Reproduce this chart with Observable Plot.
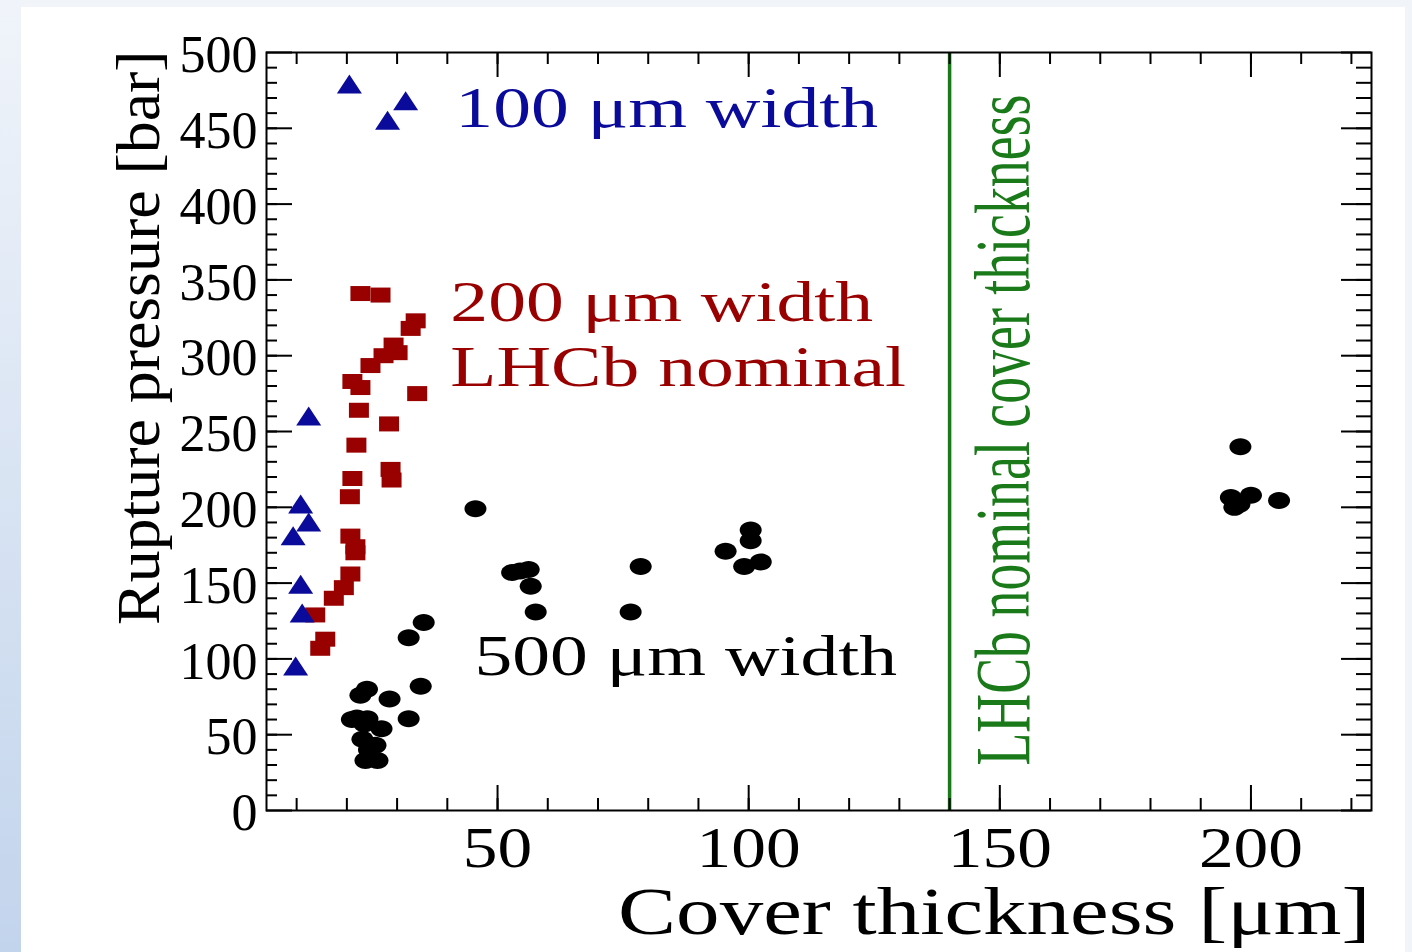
<!DOCTYPE html>
<html><head><meta charset="utf-8">
<script src="https://cdn.jsdelivr.net/npm/d3@7"></script>
<script src="https://cdn.jsdelivr.net/npm/@observablehq/plot@0.6"></script>
<style>
html,body{margin:0;padding:0;background:#f1f4f9;}
#wrap{position:relative;width:1412px;height:952px;background:#f1f4f9;overflow:hidden;}
#strip{position:absolute;left:0;top:0;width:21px;height:952px;background:linear-gradient(to bottom,#f0f4fa,#c2d4ec);}
#panel{position:absolute;left:21px;top:7px;width:1384px;height:945px;background:#fff;}
#chart{position:absolute;left:0;top:0;}
</style></head><body>
<div id="wrap"><div id="strip"></div><div id="panel"></div><div id="chart"></div></div>
<script>
// ---- data ----
const width100 = [[20.5,478],[28.1,454],[31.7,467],[12.4,259],[10.8,201],[12.4,189],[9.3,180],[10.8,148],[11.1,129],[9.8,94]];
const width200 = [[22.7,341],[26.7,340],[33.7,323],[32.7,318],[30.1,302],[29.3,307],[27.3,300],[24.7,293.5],[21.1,283],[22.7,279],[34.0,275],[22.4,264],[28.4,255],[21.9,241],[28.7,225],[28.9,218],[21.1,219],[20.6,207],[20.7,181],[21.7,174],[21.7,170],[20.7,156],[19.4,147],[17.4,140],[13.7,129],[15.7,113],[14.7,107]];
const width500 = [[45.6,199],[52.9,157],[54.5,158],[56.2,159],[56.6,148],[57.6,131],[76.5,131],[78.5,161],[95.4,171],[100.4,185],[100.4,178],[99.1,161],[102.4,164],[197.9,240],[196,206.5],[197.7,202],[200,208],[196.7,200],[205.6,204.5],[35.3,124],[32.3,114],[34.7,82],[32.3,60.5],[28.5,73.6],[24,80],[22.7,76],[21,60],[22,61],[24.1,60.5],[23.5,57],[26.9,54],[23.1,47],[25.7,43],[24.4,40],[23.7,33],[26.1,33]];
const nominalCover = [140];
const xDomain = [4, 224];
const yDomain = [0, 500];
const xTickLabels = [50, 100, 150, 200];
const yTickLabels = [0, 50, 100, 150, 200, 250, 300, 350, 400, 450, 500];
const xMinorTicks = [10,20,30,40,50,60,70,80,90,100,110,120,130,140,150,160,170,180,190,200,210,220];
const yMinorTicks = [10,20,30,40,50,60,70,80,90,100,110,120,130,140,150,160,170,180,190,200,210,220,230,240,250,260,270,280,290,300,310,320,330,340,350,360,370,380,390,400,410,420,430,440,450,460,470,480,490];
const annotations = [
  {x: 41.6, y: 462.4, text: "100 μm width", color: "blue"},
  {x: 40.6, y: 335, text: "200 μm width", color: "red"},
  {x: 40.6, y: 291.6, text: "LHCb nominal", color: "red"},
  {x: 45.4, y: 101, text: "500 μm width", color: "black"}
];
const xTitle = "Cover thickness [μm]";
const yTitle = "Rupture pressure [bar]";
const lineLabel = "LHCb nominal cover thickness";

// ---- styling ----
const BLUE = "#0b0b9b", RED = "#990000", GREEN = "#1a7a1a";
const colorOf = {blue: BLUE, red: RED, black: "#000"};
const W = 1412, H = 952, mL = 266, mR = 41, mT = 52, mB = 142;
const iw = W - mL - mR, ih = H - mT - mB;

function ellipse(rx, ry) {
  return {draw(c) {
    const k = 0.5523;
    c.moveTo(rx, 0);
    c.bezierCurveTo(rx, ry*k, rx*k, ry, 0, ry);
    c.bezierCurveTo(-rx*k, ry, -rx, ry*k, -rx, 0);
    c.bezierCurveTo(-rx, -ry*k, -rx*k, -ry, 0, -ry);
    c.bezierCurveTo(rx*k, -ry, rx, -ry*k, rx, 0);
    c.closePath();
  }};
}
function rectSym(w, h) { return {draw(c) { c.rect(-w/2, -h/2, w, h); }}; }
function triSym(w, h) { return {draw(c) { c.moveTo(0, -h*0.6); c.lineTo(w/2, h*0.4); c.lineTo(-w/2, h*0.4); c.closePath(); }}; }

const tk = {stroke: "black", strokeWidth: 2};
const plot = Plot.plot({
  width: W, height: H,
  marginLeft: mL, marginRight: mR, marginTop: mT, marginBottom: mB,
  x: {domain: xDomain, axis: null},
  y: {domain: yDomain, axis: null},
  style: {background: "transparent", fontFamily: "'Liberation Serif','Times New Roman',serif", color: "black", overflow: "visible"},
  marks: [
    Plot.ruleX(nominalCover, {x: d => d, stroke: GREEN, strokeWidth: 3.5}),
    // ticks (inward, all four sides)
    Plot.tickX(xMinorTicks, {x: d => d, insetTop: ih - 12, ...tk}),
    Plot.tickX(xTickLabels, {x: d => d, insetTop: ih - 25, ...tk}),
    Plot.tickX(xMinorTicks, {x: d => d, insetBottom: ih - 12, ...tk}),
    Plot.tickX(xTickLabels, {x: d => d, insetBottom: ih - 25, ...tk}),
    Plot.tickY(yMinorTicks, {y: d => d, insetRight: iw - 11, ...tk}),
    Plot.tickY(yTickLabels, {y: d => d, insetRight: iw - 26, ...tk}),
    Plot.tickY(yMinorTicks, {y: d => d, insetLeft: iw - 15, ...tk}),
    Plot.tickY(yTickLabels, {y: d => d, insetLeft: iw - 30, ...tk}),
    Plot.frame({stroke: "black", strokeWidth: 2}),
    // data
    Plot.dot(width500, {x: d => d[0], y: d => d[1], symbol: ellipse(11, 8.5), r: 5, fill: "black", stroke: "none"}),
    Plot.dot(width200, {x: d => d[0], y: d => d[1], symbol: rectSym(20, 15), r: 5, fill: RED, stroke: "none"}),
    Plot.dot(width100, {x: d => d[0], y: d => d[1], symbol: triSym(25, 19), r: 5, fill: BLUE, stroke: "none"}),
    // annotations
    Plot.text(annotations, {x: "x", y: "y", text: "text", fill: d => colorOf[d.color], textAnchor: "start", lineAnchor: "middle", fontSize: 56}),
    Plot.text([lineLabel], {x: () => nominalCover[0], frameAnchor: "bottom", text: d => d, rotate: -90, textAnchor: "start", lineAnchor: "middle", fontSize: 78, dx: 54, dy: -45, fill: GREEN}),
    // tick labels
    Plot.text(xTickLabels, {x: d => d, frameAnchor: "bottom", text: d => String(d), lineAnchor: "middle", dy: 39, fontSize: 56, fill: "black"}),
    Plot.text(yTickLabels, {y: d => d, frameAnchor: "left", text: d => String(d), textAnchor: "end", lineAnchor: "middle", dx: -9, dy: 3, fontSize: 52, fill: "black"}),
    // axis titles
    Plot.text([xTitle], {frameAnchor: "bottom-right", text: d => d, textAnchor: "end", lineAnchor: "middle", dy: 102, dx: -1, fontSize: 68, fill: "black"}),
    Plot.text([yTitle], {frameAnchor: "top-left", text: d => d, rotate: -90, textAnchor: "end", lineAnchor: "middle", dx: -127, dy: -2, fontSize: 62, fill: "black"})
  ]
});
document.getElementById("chart").appendChild(plot);

// horizontal stretch of the ROOT-style lettering, scaled about each text's own anchor
const annoTexts = new Set(annotations.map(a => a.text));
plot.querySelectorAll("text").forEach(t => {
  const s = t.textContent;
  let f = 1;
  if (annoTexts.has(s)) f = 1.35;
  else if (s === lineLabel) f = 0.69;
  else if (s === xTitle) f = 1.28;
  else if (s === yTitle) f = 1.03;
  else if (/^\d+$/.test(s)) {
    const r = t.getBoundingClientRect();
    f = r.top > 815 ? 1.24 : 1.0;
  }
  if (f === 1) return;
  try {
    const ax = t.x.baseVal.numberOfItems ? t.x.baseVal.getItem(0).value : 0;
    const ay = t.y.baseVal.numberOfItems ? t.y.baseVal.getItem(0).value : 0;
    const base = t.transform.baseVal.consolidate();
    let m = base ? base.matrix : plot.createSVGMatrix();
    m = m.translate(ax, ay).scaleNonUniform(f, 1).translate(-ax, -ay);
    const vals = [m.a, m.b, m.c, m.d, m.e, m.f];
    if (vals.every(Number.isFinite)) {
      t.setAttribute("transform", `matrix(${vals.join(",")})`);
    } else {
      throw new Error("bad matrix");
    }
  } catch (e) {
    const L = t.getComputedTextLength();
    t.setAttribute("textLength", (L * f).toFixed(1));
    t.setAttribute("lengthAdjust", "spacingAndGlyphs");
  }
});
</script>
</body></html>
